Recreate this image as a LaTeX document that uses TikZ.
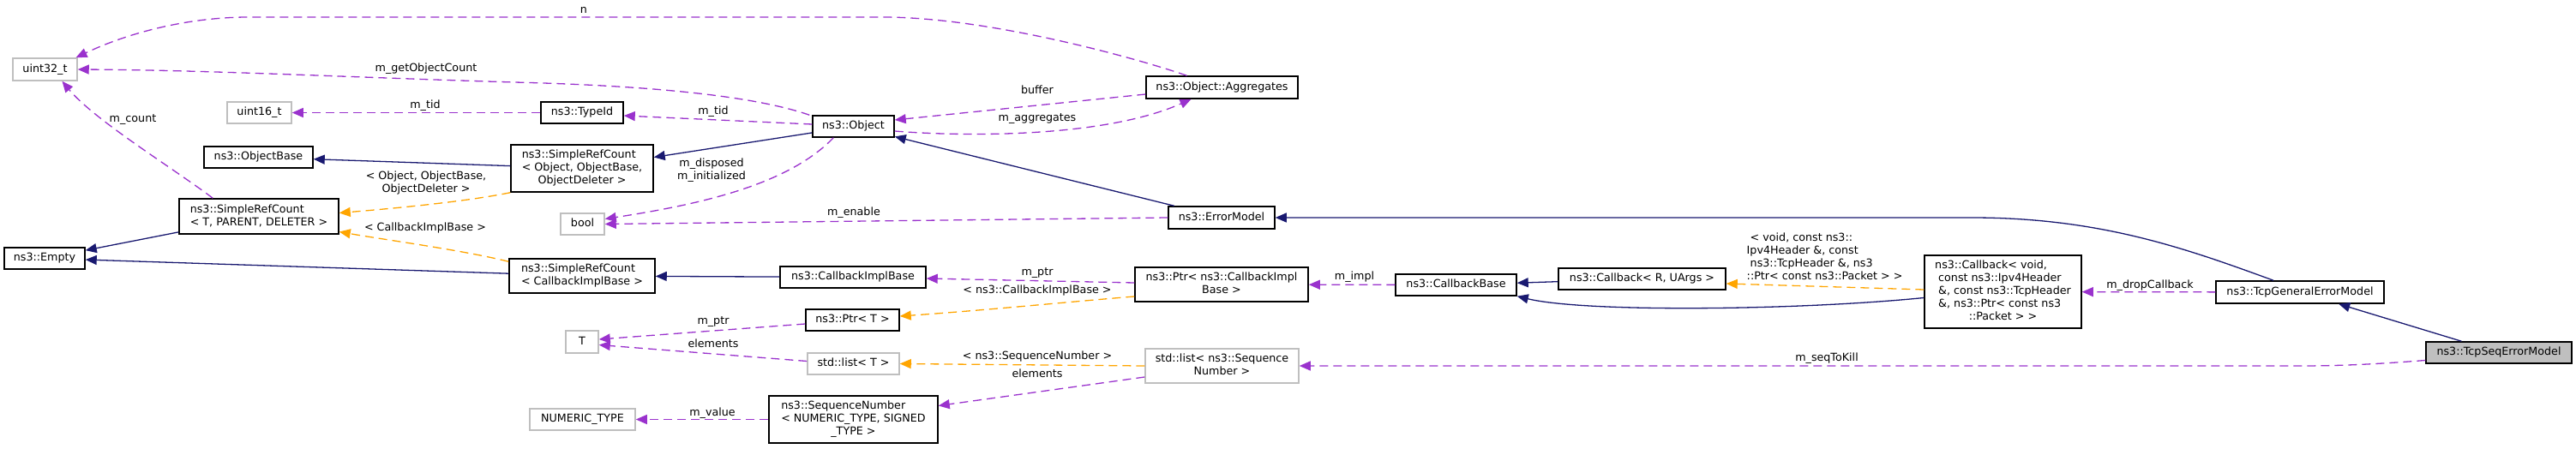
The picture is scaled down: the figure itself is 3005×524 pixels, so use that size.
\documentclass[tikz,border=0pt]{standalone}
\usepackage{fontspec}
\setmainfont{DejaVu Sans}
\usetikzlibrary{arrows.meta,calc}
\definecolor{navy}{HTML}{191970}
\definecolor{purp}{HTML}{9A32CD}
\definecolor{orng}{HTML}{FFA500}
\definecolor{gsev}{HTML}{BFBFBF}
\newcommand{\lastc}[1]{\multicolumn{1}{@{}c@{}}{#1}}
\begin{document}
\begin{tikzpicture}[x=1pt,y=-1pt,
  font=\fontsize{12.7}{15}\selectfont,
  mbox/.style={draw=black,line width=1.5pt,fill=white,inner sep=0pt,rectangle},
  box/.style={mbox,text height=9.5pt,text depth=2.8pt},
  gbox/.style={box,draw=gsev},
  gmbox/.style={mbox,draw=gsev},
  lbl/.style={inner sep=0pt,align=center},
  slbl/.style={lbl,text height=9.5pt,text depth=2.8pt},
  inh/.style={draw=navy,line width=1.3pt,-{Triangle[length=13pt,width=11pt,fill=navy]}},
  use/.style={draw=purp,line width=1.3pt,dash pattern=on 10pt off 6pt,-{Triangle[length=13pt,width=11pt,fill=purp]}},
  tmpl/.style={draw=orng,line width=1.3pt,dash pattern=on 10pt off 6pt,-{Triangle[length=13pt,width=11pt,fill=orng]}},
]
\useasboundingbox (0,0) rectangle (3005,524);

% ---------------- nodes ----------------
\node[gbox,minimum width=75pt,minimum height=26pt] (uint32) at (52.5,81) {uint32\_t};
\node[gbox,minimum width=75pt,minimum height=25pt] (uint16) at (302.5,131.5) {uint16\_t};
\node[box,minimum width=96pt,minimum height=25pt] (typeid) at (679,131.5) {ns3::TypeId};
\node[box,minimum width=95pt,minimum height=25pt] (object) at (995.5,147.5) {ns3::Object};
\node[box,minimum width=177pt,minimum height=26pt] (agg) at (1425.5,102) {ns3::Object::Aggregates};
\node[box,minimum width=127pt,minimum height=25pt] (objbase) at (301.5,183.5) {ns3::ObjectBase};
\node[mbox,minimum width=166pt,minimum height=55pt] (srcobj) at (679,196.5)
  {\begin{tabular}{@{}l@{}}ns3::SimpleRefCount\\< Object, ObjectBase,\\\lastc{ObjectDeleter >}\end{tabular}};
\node[mbox,minimum width=186pt,minimum height=41pt] (srct) at (302,252.5)
  {\begin{tabular}{@{}l@{}}ns3::SimpleRefCount\\< T, PARENT, DELETER >\end{tabular}};
\node[box,minimum width=94pt,minimum height=25pt] (empty) at (52,301.5) {ns3::Empty};
\node[gbox,minimum width=51pt,minimum height=25pt] (bool) at (679.5,261.5) {bool};
\node[box,minimum width=124pt,minimum height=26pt] (errmodel) at (1425,254) {ns3::ErrorModel};
\node[mbox,minimum width=170pt,minimum height=40pt] (srccb) at (679,322)
  {\begin{tabular}{@{}l@{}}ns3::SimpleRefCount\\< CallbackImplBase >\end{tabular}};
\node[box,minimum width=170pt,minimum height=25pt] (cbimpl) at (995,323.5) {ns3::CallbackImplBase};
\node[mbox,minimum width=202pt,minimum height=40pt] (ptrcb) at (1425,332)
  {\begin{tabular}{@{}l@{}}ns3::Ptr< ns3::CallbackImpl\\\lastc{Base >}\end{tabular}};
\node[box,minimum width=109pt,minimum height=25pt] (ptrt) at (994.5,373.5) {ns3::Ptr< T >};
\node[gbox,minimum width=38pt,minimum height=26pt] (T) at (679,399) {T};
\node[gbox,minimum width=107pt,minimum height=25pt] (listt) at (995.5,424.5) {std::list< T >};
\node[gmbox,minimum width=179pt,minimum height=40pt] (listseq) at (1425.5,427)
  {\begin{tabular}{@{}l@{}}std::list< ns3::Sequence\\\lastc{Number >}\end{tabular}};
\node[mbox,minimum width=197pt,minimum height=55pt] (seqnum) at (995.5,489.5)
  {\begin{tabular}{@{}l@{}}ns3::SequenceNumber\\< NUMERIC\_TYPE, SIGNED\\\lastc{\_TYPE >}\end{tabular}};
\node[gbox,minimum width=123pt,minimum height=25pt] (numeric) at (679.5,489.5) {NUMERIC\_TYPE};
\node[box,minimum width=141pt,minimum height=25pt] (cbbase) at (1698.5,332.5) {ns3::CallbackBase};
\node[box,minimum width=195pt,minimum height=25pt] (cbr) at (1915.5,325.5) {ns3::Callback< R, UArgs >};
\node[mbox,minimum width=183pt,minimum height=85pt] (cbvoid) at (2336.5,340.5)
  {\begin{tabular}{@{}l@{}}ns3::Callback< void,\\\hspace*{4pt}const ns3::Ipv4Header\\\hspace*{4pt}\&, const ns3::TcpHeader\\\hspace*{4pt}\&, ns3::Ptr< const ns3\\\lastc{::Packet > >}\end{tabular}};
\node[box,minimum width=196pt,minimum height=26pt] (tcpgen) at (2683,341) {ns3::TcpGeneralErrorModel};
\node[box,fill=gsev,minimum width=170pt,minimum height=25pt] (tcpseq) at (2915,411.5) {ns3::TcpSeqErrorModel};

% ---------------- inheritance (navy) ----------------
\draw[inh] (srct) -- (empty);
\draw[inh] (srccb) -- (empty);
\draw[inh] (srcobj) -- (objbase);
\draw[inh] (object) -- (srcobj);
\draw[inh] (errmodel) -- (object);
\draw[inh] (cbimpl) -- (srccb);
\draw[inh] (cbr) -- (cbbase);
\draw[inh] ($(cbvoid.west)+(0,7)$) .. controls (2100,362) and (1850,365) .. (cbbase.south east);
\draw[inh] ($(tcpgen.north)+(-31,0)$) .. controls (2550,290) and (2450,254) .. (2300,254) -- (errmodel.east);
\draw[inh] (tcpseq) -- (tcpgen);

% ---------------- template instances (orange) ----------------
\draw[tmpl] (srcobj.south west) .. controls (540,236) and (450,244) .. ($(srct.east)+(0,-4)$);
\draw[tmpl] ($(srccb.north west)+(0,4)$) .. controls (540,292) and (450,280) .. ($(srct.east)+(0,18)$);
\draw[tmpl] ($(ptrcb.west)+(0,14)$) .. controls (1250,352) and (1150,362) .. ($(ptrt.east)+(0,-4.5)$);
\draw[tmpl] (listseq.west) -- (listt.east);
\draw[tmpl] ($(cbvoid.west)+(0,-2.5)$) -- ($(cbr.east)+(0,5.5)$);

% ---------------- usage (purple) ----------------
\draw[use] ($(agg.north)+(-41,0)$) .. controls (1320,66) and (1150,20) .. (1030,20) -- (290,20) .. controls (220,20) and (150,38) .. ($(uint32.north)+(36,0)$);
\draw[use] ($(object.north west)+(-3,0)$) .. controls (880,112) and (760,100) .. (600,96) .. controls (400,90) and (250,82) .. (uint32.east);
\draw[use] (typeid) -- (uint16);
\draw[use] ($(object.west)+(0,-2.5)$) -- ($(typeid.east)+(0,3.5)$);
\draw[use] ($(object.south west)+(25,0)$) .. controls (920,215) and (820,238) .. ($(bool.east)+(0,-6)$);
\draw[use] (errmodel.west) -- (bool.east);
\draw[use] ($(object.east)+(0,5.5)$) .. controls (1130,160) and (1290,160) .. ($(agg.south)+(-36,0)$);
\draw[use] ($(agg.west)+(0,8)$) -- ($(object.east)+(0,-7.5)$);
\draw[use] ($(srct.north west)+(40,0)$) .. controls (200,195) and (110,140) .. ($(uint32.south)+(20,0)$);
\draw[use] ($(ptrcb.west)+(0,-2)$) -- ($(cbimpl.east)+(0,1.5)$);
\draw[use] (cbbase) -- (ptrcb);
\draw[use] ($(ptrt.west)+(0,4.5)$) -- ($(T.east)+(0,-3)$);
\draw[use] ($(listt.west)+(0,-3)$) -- ($(T.east)+(0,3.5)$);
\draw[use] ($(listseq.west)+(0,13)$) -- ($(seqnum.east)+(0,-16)$);
\draw[use] (seqnum) -- (numeric);
\draw[use] (tcpgen) -- (cbvoid);
\draw[use] ($(tcpseq.west)+(0,9)$) .. controls (2760,426) and (2720,427) .. (2680,427) -- (listseq.east);

% ---------------- edge labels ----------------
\node[slbl] (l1) at (681,12) {n};
\node[slbl] (l2) at (497,80) {m\_getObjectCount};
\node[slbl] (l3) at (496,123) {m\_tid};
\node[slbl] (l4) at (832,130) {m\_tid};
\node[slbl] (l5) at (155,139) {m\_count};
\node[slbl] (l6) at (1210,106) {buffer};
\node[slbl] (l7) at (1210,138) {m\_aggregates};
\node[lbl] (l8) at (497,213) {< Object, ObjectBase,\\ObjectDeleter >};
\node[lbl] (l9) at (830,199) {m\_disposed\\m\_initialized};
\node[slbl] (l10) at (996,248) {m\_enable};
\node[slbl] (l11) at (496,266) {< CallbackImplBase >};
\node[slbl] (l12) at (1210,318) {m\_ptr};
\node[slbl] (l13) at (1210,339) {< ns3::CallbackImplBase >};
\node[slbl] (l14) at (832,375) {m\_ptr};
\node[slbl] (l15) at (832,402) {elements};
\node[slbl] (l16) at (1210,416) {< ns3::SequenceNumber >};
\node[slbl] (l17) at (1210,437) {elements};
\node[slbl] (l18) at (831,482) {m\_value};
\node[slbl] (l19) at (1580,323) {m\_impl};
\node[inner sep=0pt,anchor=west] (l20) at (2037.5,300.5)
  {\begin{tabular}{@{}l@{}}\hspace*{4pt}< void, const ns3::\\Ipv4Header \&, const\\\hspace*{4pt}ns3::TcpHeader \&, ns3\\::Ptr< const ns3::Packet > >\end{tabular}};
\node[slbl] (l21) at (2508,333) {m\_dropCallback};
\node[slbl] (l22) at (2131,418) {m\_seqToKill};
\end{tikzpicture}
\end{document}
